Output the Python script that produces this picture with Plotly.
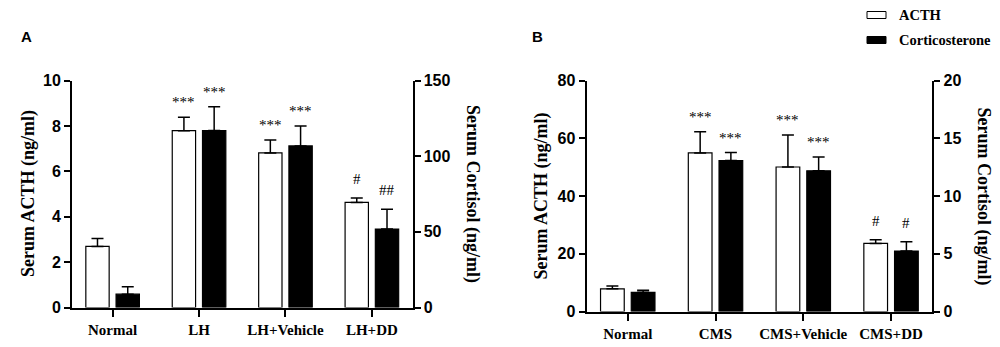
import plotly.graph_objects as go

# ---------------- data ----------------
cats_a = ["Normal", "LH", "LH+Vehicle", "LH+DD"]
acth_a = [2.69, 7.79, 6.81, 4.63]
acth_a_err = [0.35, 0.59, 0.57, 0.19]
cort_a = [8.8, 116.9, 106.8, 51.8]
cort_a_err = [4.9, 15.7, 13.2, 13.1]
sig_acth_a = ["", "***", "***", "#"]
sig_cort_a = ["", "***", "***", "##"]

cats_b = ["Normal", "CMS", "CMS+Vehicle", "CMS+DD"]
acth_b = [7.87, 55.0, 50.1, 23.6]
acth_b_err = [1.0, 7.3, 11.1, 1.3]
cort_b = [1.66, 13.08, 12.2, 5.24]
cort_b_err = [0.18, 0.70, 1.2, 0.81]
sig_acth_b = ["", "***", "***", "#"]
sig_cort_b = ["", "***", "***", "#"]

series_names = ["ACTH", "Corticosterone"]
ticks_acth_a = [0, 2, 4, 6, 8, 10]
ticks_cort_a = [0, 50, 100, 150]
ticks_acth_b = [0, 20, 40, 60, 80]
ticks_cort_b = [0, 5, 10, 15, 20]

# ---------------- style ----------------
W, H = 1000, 347
SANS = "Liberation Sans, Arial, sans-serif"
SERIF = "Liberation Serif, Times New Roman, serif"
BW = 0.27          # bar width (category units)
OFF_W = -0.31      # offset of white bar
OFF_K = 0.04       # offset of black bar


def px(x):
    return x / W


def py(y):
    return 1 - y / H


fig = go.Figure()


def add_panel(cats, acth, acth_err, cort, cort_err, xa, ya, ya2):
    zeros = [0] * len(cats)
    fig.add_trace(go.Bar(
        x=cats, y=acth, xaxis=xa, yaxis=ya, name=series_names[0],
        width=BW, offset=OFF_W, showlegend=False,
        marker=dict(color="white", line=dict(color="black", width=1.2)),
        error_y=dict(type="data", array=acth_err, arrayminus=zeros, symmetric=False,
                     color="black", thickness=1.5, width=6),
    ))
    fig.add_trace(go.Bar(
        x=cats, y=cort, xaxis=xa, yaxis=ya2, name=series_names[1],
        width=BW, offset=OFF_K, showlegend=False,
        marker=dict(color="black", line=dict(color="black", width=1.2)),
        error_y=dict(type="data", array=cort_err, arrayminus=zeros, symmetric=False,
                     color="black", thickness=1.5, width=6),
    ))


add_panel(cats_a, acth_a, acth_a_err, cort_a, cort_a_err, "x", "y", "y2")
add_panel(cats_b, acth_b, acth_b_err, cort_b, cort_b_err, "x2", "y3", "y4")

# significance marks
annos = []
wc = OFF_W + BW / 2
kc = OFF_K + BW / 2


def add_sig(marks, vals, errs, xref, yref, center):
    for i, (m, v, e) in enumerate(zip(marks, vals, errs)):
        if not m:
            continue
        star = "*" in m
        annos.append(dict(
            x=i + center, y=v + e, xref=xref, yref=yref, text=m, showarrow=False,
            xanchor="center", yanchor="bottom", yshift=5 if star else 9,
            font=dict(family=SERIF, size=15, color="black"),
        ))


add_sig(sig_acth_a, acth_a, acth_a_err, "x", "y", wc)
add_sig(sig_cort_a, cort_a, cort_a_err, "x", "y2", kc)
add_sig(sig_acth_b, acth_b, acth_b_err, "x2", "y3", wc)
add_sig(sig_cort_b, cort_b, cort_b_err, "x2", "y4", kc)

title_font = dict(family=SERIF, size=18, color="black", weight="bold")
for txt, x, y, ang in [
    ("Serum ACTH (ng/ml)", 28, 194, -90),
    ("Serum Cortisol (ng/ml)", 473, 194, 90),
    ("Serum ACTH (ng/ml)", 540.5, 196, -90),
    ("Serum Cortisol (ng/ml)", 983, 196.5, 90),
]:
    annos.append(dict(text=txt, x=px(x), y=py(y), xref="paper", yref="paper",
                      showarrow=False, textangle=ang, xanchor="center", yanchor="middle",
                      font=title_font))

for txt, x, y in [("A", 26, 36.5), ("B", 537, 36)]:
    annos.append(dict(text=txt, x=px(x), y=py(y), xref="paper", yref="paper",
                      showarrow=False, xanchor="center", yanchor="middle",
                      font=dict(family=SANS, size=15, color="black", weight="bold")))

# legend (custom swatches)
shapes = []
for name, fill, yc in [(series_names[0], "white", 15.0), (series_names[1], "black", 40.0)]:
    shapes.append(dict(type="rect", xref="paper", yref="paper",
                       x0=px(867), x1=px(886), y0=py(yc - 3.5), y1=py(yc + 3.5),
                       fillcolor=fill, line=dict(color="black", width=1)))
    annos.append(dict(text=name, x=px(897), y=py(yc), xref="paper", yref="paper",
                      showarrow=False, xanchor="left", yanchor="middle",
                      font=dict(family=SERIF, size=14.5, color="black", weight="bold")))

tickfont_y = dict(family=SANS, size=16, color="black", weight="bold")
tickfont_x = dict(family=SERIF, size=15, color="black", weight="bold")


def xaxis(domain, anchor):
    return dict(domain=domain, anchor=anchor, type="category", range=[-0.47, 3.47],
                showline=True, linecolor="black", linewidth=2, ticks="outside",
                ticklen=7, tickwidth=2, tickcolor="black", showgrid=False,
                zeroline=False, tickfont=tickfont_x, fixedrange=True, automargin=False)


def yaxis(domain, anchor, rng, tv, side="left", overlaying=None):
    d = dict(domain=domain, anchor=anchor, range=rng, tickvals=tv, side=side,
             showline=True, linecolor="black", linewidth=2, ticks="outside",
             ticklen=6, tickwidth=2, tickcolor="black", showgrid=False,
             zeroline=False, tickfont=tickfont_y, fixedrange=True, automargin=False)
    if overlaying:
        d["overlaying"] = overlaying
    return d


dom_xa = [px(72), px(412.5)]
dom_ya = [py(307.5), py(80.5)]
dom_xb = [px(586.5), px(932.3)]
dom_yb = [py(311.5), py(80.8)]

fig.update_layout(
    width=W, height=H, autosize=False,
    margin=dict(l=0, r=0, t=0, b=0, pad=0, autoexpand=False),
    paper_bgcolor="white", plot_bgcolor="rgba(0,0,0,0)",
    barmode="overlay", showlegend=False,
    xaxis=xaxis(dom_xa, "y"),
    yaxis=yaxis(dom_ya, "x", [0, 10], ticks_acth_a),
    yaxis2=yaxis(dom_ya, "x", [0, 150], ticks_cort_a, side="right", overlaying="y"),
    xaxis2=xaxis(dom_xb, "y3"),
    yaxis3=yaxis(dom_yb, "x2", [0, 80], ticks_acth_b),
    yaxis4=yaxis(dom_yb, "x2", [0, 20], ticks_cort_b, side="right", overlaying="y3"),
    annotations=annos,
    shapes=shapes,
)

fig.write_html(
    "out.html",
    config={"displayModeBar": False},
    post_script="document.body.style.margin='0';document.body.style.overflow='hidden';",
)
